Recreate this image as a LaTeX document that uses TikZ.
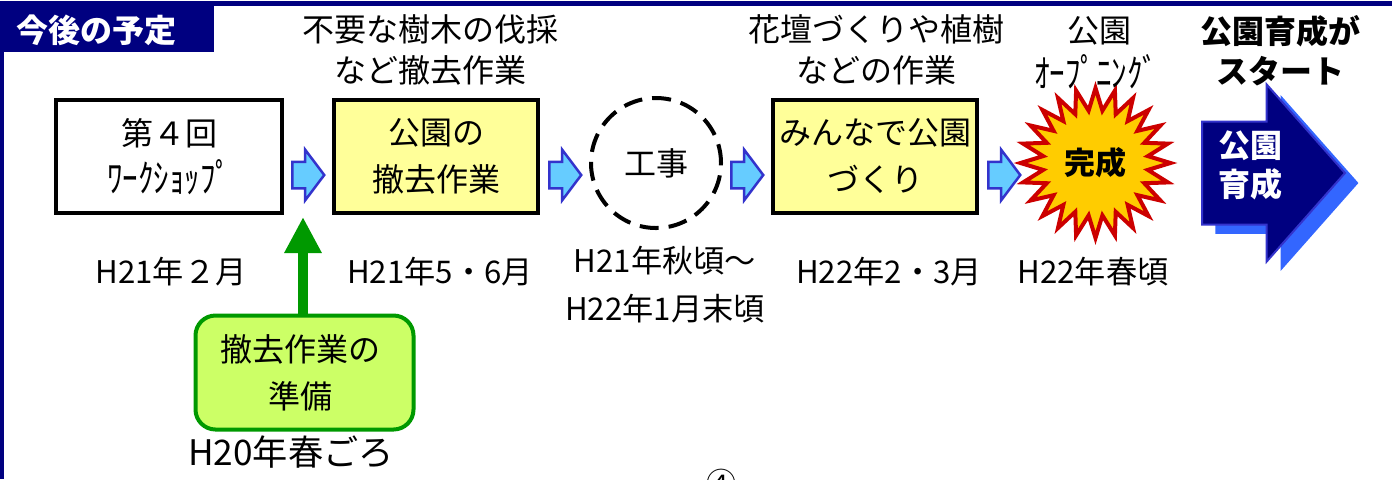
\documentclass[tikz,border=0pt]{standalone}
\usepackage{graphicx}
\usepackage{fontspec}
\setmainfont{Noto Sans CJK JP}
\usetikzlibrary{shapes.geometric,shapes.arrows,arrows.meta}
\definecolor{navy}{HTML}{000080}
\definecolor{edgeblue}{HTML}{3333CC}
\definecolor{shadowblue}{HTML}{3366FF}
\definecolor{skyfill}{HTML}{66CCFF}
\definecolor{paleyellow}{HTML}{FFFF99}
\definecolor{leaf}{HTML}{009900}
\definecolor{lime}{HTML}{CCFF66}
\definecolor{burstred}{HTML}{CC0000}
\definecolor{burstgold}{HTML}{FFCC00}
\tikzset{
  x=0.5pt,y=-0.5pt,
  head/.style={inner sep=0pt,font=\fontsize{16pt}{20.5pt}\selectfont,align=center},
  bolder/.style={inner sep=0pt,font=\fontsize{16pt}{20pt}\selectfont\bfseries,align=center},
  dates/.style={inner sep=0pt,font=\fontsize{15.6pt}{24pt}\selectfont,align=center},
  stepbox/.style={draw=black,line width=2pt,minimum width=113pt,minimum height=56.5pt,inner sep=0pt,font=\fontsize{16pt}{23.5pt}\selectfont,align=center},
  flowarrow/.style={single arrow,draw=edgeblue,fill=skyfill,line width=1.25pt,minimum height=16pt,inner xsep=0pt,inner ysep=6pt,
    single arrow head extend=6pt,single arrow tip angle=106,anchor=tail},
  bigarrow/.style={single arrow,inner xsep=0pt,inner ysep=25.25pt,minimum height=71.5pt,
    single arrow head extend=18.5pt,single arrow tip angle=97,anchor=tail},
}
\begin{document}
\begin{tikzpicture}
\useasboundingbox (0,0) rectangle (1392,479);
% frame
\fill[navy] (0,1) rectangle (1392,6);
\fill[navy] (0,1) rectangle (4,479);
\node[fill=navy,inner sep=0pt,minimum width=107pt,minimum height=23.5pt,anchor=north west] (title) at (0,5) {};
\node[inner sep=0pt,text=white,font=\fontsize{16pt}{20pt}\selectfont\bfseries] (titletext) at (97,30) {今後の予定};
% boxes
\node[stepbox,fill=white] (ws) at (169,156.5) {第４回\\{\fontsize{15.5pt}{23.5pt}\selectfont\scalebox{1}[1.25]{ﾜｰｸｼｮｯﾌﾟ}}};
\node[stepbox,fill=paleyellow,minimum width=102pt] (removal) at (436,156.5) {公園の\\撤去作業};
\node[circle,draw=black,line width=2pt,dash pattern=on 9.5pt off 5pt,minimum size=65pt,inner sep=0pt,font=\fontsize{16pt}{20pt}\selectfont] (works) at (656,163) {工事};
\node[stepbox,fill=paleyellow,minimum width=102pt] (together) at (875,156.5) {みんなで公園\\づくり};
\node[star,star points=24,star point ratio=1.42,draw=burstred,fill=burstgold,line width=2pt,minimum size=75pt,inner sep=0pt,font=\fontsize{15.5pt}{20pt}\selectfont\bfseries] (done) at (1095.5,163) {完成};
% flow arrows
\node[flowarrow] (a1) at (291,175) {};
\node[flowarrow] (a2) at (548,175) {};
\node[flowarrow] (a3) at (730,175) {};
\node[flowarrow] (a4) at (987,175) {};
% big arrow
\node[bigarrow,fill=shadowblue] (bigshadow) at (1215,183) {};
\node[bigarrow,fill=navy,draw=edgeblue,line width=1pt] (big) at (1201,173) {};
\node[inner sep=0pt,text=white,font=\fontsize{16pt}{19.5pt}\selectfont\bfseries,align=center] (bigtext) at (1250,165) {公園\\育成};
% preparation
\node[draw=leaf,fill=lime,line width=2pt,rounded corners=10pt,minimum width=109pt,minimum height=57pt,inner sep=0pt,font=\fontsize{16pt}{23.5pt}\selectfont,align=center] (prep) at (304.5,372.5) {\mbox{撤去作業の\kern4pt}\\\mbox{準備\kern4pt}};
\coordinate (wsgap) at (303,217);
\draw[leaf,line width=5pt,-{Triangle[length=18pt,width=17.5pt]}] (prep.north -| wsgap) -- (wsgap);
% captions
\node[head] (t1) at (430,50) {不要な樹木の伐採\\など撤去作業};
\node[head] (t2) at (876,50) {花壇づくりや植樹\\などの作業};
\node[head] (t3) at (1099,31) {公園};
\node[inner sep=0pt,font=\fontsize{15.5pt}{18pt}\selectfont] (t4) at (1096,72) {\scalebox{1}[1.25]{ｵｰﾌﾟﾆﾝｸﾞ}};
\node[bolder] (t5) at (1280,51) {公園育成が\\スタート};
% dates
\node[dates] (d1) at (171,272) {H21年２月};
\node[dates] (d2) at (440,272) {H21年5・6月};
\node[dates] (d3) at (665,285) {H21年秋頃～\\H22年1月末頃};
\node[dates] (d4) at (889,272) {H22年2・3月};
\node[dates] (d5) at (1093,272) {H22年春頃};
\node[dates,font=\fontsize{17.6pt}{20pt}\selectfont] (d0) at (291,452) {H20年春ごろ};
\node[inner sep=0pt,font=\fontsize{15pt}{18pt}\selectfont] (pg) at (721,483) {④};
\end{tikzpicture}
\end{document}
